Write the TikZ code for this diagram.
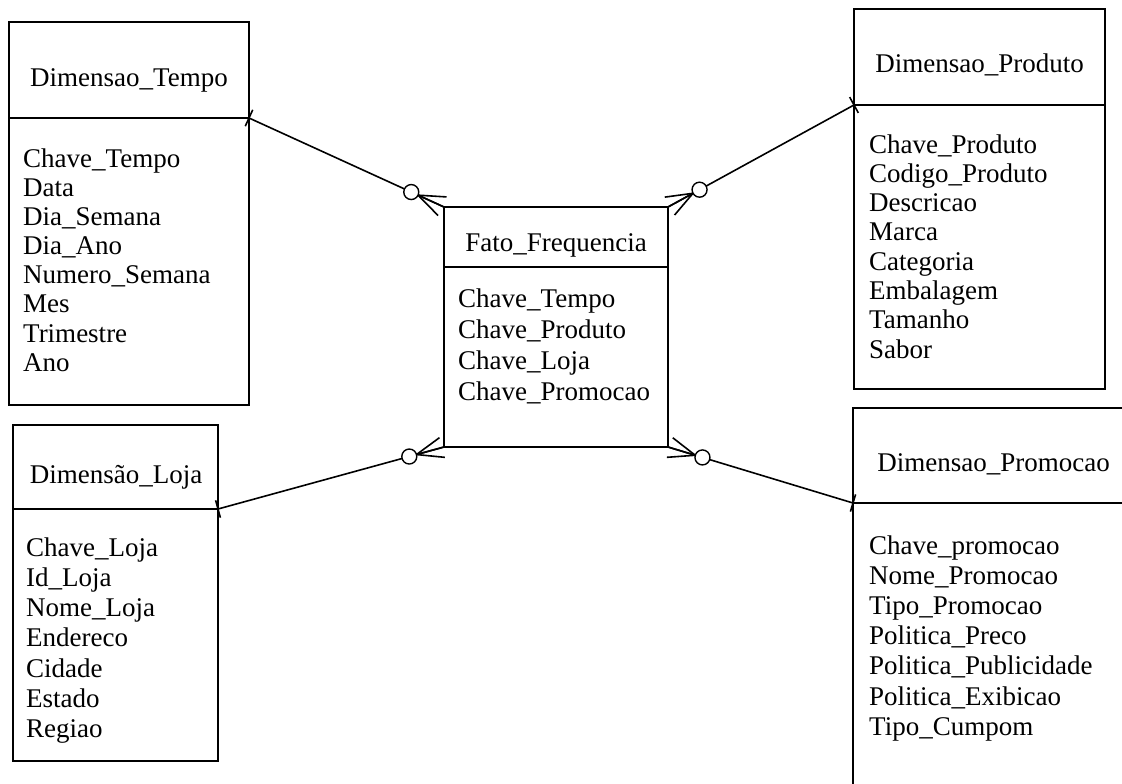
\documentclass[tikz,border=0pt]{standalone}
\usepackage{fontspec}
\setmainfont{Liberation Serif}
\usetikzlibrary{calc}

% one-to-many link: bar at the dimension end, ring and crow's foot at the fact end
\newcommand\erlink[3]{%
  \draw[link] (#1) -- (#2);
  \draw[link] ($(#1)!9pt!90:(#2)$) -- ($(#1)!9pt!-90:(#2)$);
  \coordinate (#3-v) at ($(#2)!28.5pt!(#1)$);
  \draw[link] ($(#3-v)!1!21:(#2)$) -- (#3-v) -- ($(#3-v)!1!-21:(#2)$);
  \draw[link] (#3-v) -- (#2);
  \node[ring] (#3) at ($(#2)!36pt!(#1)$) {};
}

\tikzset{
  entity/.style={draw, line width=2pt, inner sep=0pt, outer sep=0pt, anchor=north west},
  rule/.style={line width=2pt},
  title/.style={font=\fontsize{27}{30}\selectfont, inner sep=0pt, anchor=base},
  attrs/.style={font=\fontsize{27}{#1}\selectfont, inner sep=0pt, anchor=base west},
  link/.style={line width=1.6pt},
  ring/.style={draw, fill=white, circle, line width=1.4pt, minimum size=15pt, inner sep=0pt},
}

\begin{document}
\begin{tikzpicture}[x=1pt, y=-1pt]
\useasboundingbox (0,0) rectangle (1122,784);
\fill[white] (0,0) rectangle (1122,784);
\clip (0,0) rectangle (1122,784);

% Dimensao_Tempo
\node[entity, minimum width=240pt, minimum height=383pt] (tempo) at (9,22) {};
\coordinate (tempoL) at (9,118);
\coordinate (tempoR) at (249,118);
\draw[rule] (tempoL) -- (tempoR);
\node[title] (tempoT) at (129,87) {Dimensao\_Tempo};
\node[attrs=29.2] (tempoA) at (23,167) {\begin{tabular}[t]{@{}l@{}}
Chave\_Tempo\\ Data\\ Dia\_Semana\\ Dia\_Ano\\ Numero\_Semana\\ Mes\\ Trimestre\\ Ano
\end{tabular}};

% Dimensao_Produto
\node[entity, minimum width=251pt, minimum height=380pt] (produto) at (854,9) {};
\coordinate (produtoL) at (854,105);
\coordinate (produtoR) at (1105,105);
\draw[rule] (produtoL) -- (produtoR);
\node[title] (produtoT) at (979.5,73) {Dimensao\_Produto};
\node[attrs=29.3] (produtoA) at (869,153) {\begin{tabular}[t]{@{}l@{}}
Chave\_Produto\\ Codigo\_Produto\\ Descricao\\ Marca\\ Categoria\\ Embalagem\\ Tamanho\\ Sabor
\end{tabular}};

% Fato_Frequencia
\node[entity, minimum width=224pt, minimum height=240pt] (fato) at (444,207) {};
\coordinate (fatoL) at (444,267);
\coordinate (fatoR) at (668,267);
\draw[rule] (fatoL) -- (fatoR);
\node[title] (fatoT) at (556,251) {Fato\_Frequencia};
\node[attrs=31] (fatoA) at (458,307) {\begin{tabular}[t]{@{}l@{}}
Chave\_Tempo\\ Chave\_Produto\\ Chave\_Loja\\ Chave\_Promocao
\end{tabular}};

% Dimensão_Loja
\node[entity, minimum width=205pt, minimum height=336pt] (loja) at (13,425) {};
\coordinate (lojaL) at (13,509);
\coordinate (lojaR) at (218,509);
\draw[rule] (lojaL) -- (lojaR);
\node[title] (lojaT) at (116,483) {Dimensão\_Loja};
\node[attrs=30.3] (lojaA) at (26,556) {\begin{tabular}[t]{@{}l@{}}
Chave\_Loja\\ Id\_Loja\\ Nome\_Loja\\ Endereco\\ Cidade\\ Estado\\ Regiao
\end{tabular}};

% Dimensao_Promocao
\node[entity, minimum width=282pt, minimum height=420pt] (promo) at (853,408) {};
\coordinate (promoL) at (853,503);
\coordinate (promoR) at (1135,503);
\draw[rule] (promoL) -- (promoR);
\node[title] (promoT) at (993.5,471) {Dimensao\_Promocao};
\node[attrs=30.2] (promoA) at (869,554) {\begin{tabular}[t]{@{}l@{}}
Chave\_promocao\\ Nome\_Promocao\\ Tipo\_Promocao\\ Politica\_Preco\\ Politica\_Publicidade\\ Politica\_Exibicao\\ Tipo\_Cumpom
\end{tabular}};

% links from the fact table to each dimension
\erlink{tempoR}{fato.north west}{ringTempo}
\erlink{produtoL}{fato.north east}{ringProduto}
\erlink{lojaR}{fato.south west}{ringLoja}
\erlink{promoL}{fato.south east}{ringPromo}
\end{tikzpicture}
\end{document}
